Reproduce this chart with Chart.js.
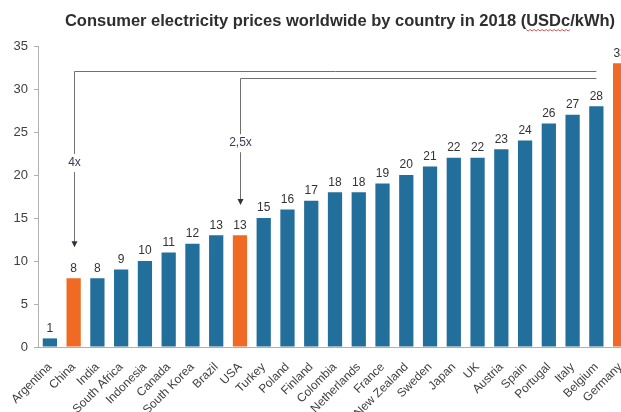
<!DOCTYPE html>
<html lang="en">
<head>
    <meta charset="UTF-8">
    <title>Consumer electricity prices 2018</title>
    <script src="https://cdn.jsdelivr.net/npm/chart.js"></script>
    <style>
        html, body { margin: 0; padding: 0; background: #fff; overflow: hidden; }
        #wrap { width: 680px; height: 412px; position: relative; }
    </style>
</head>
<body>
    <div id="wrap"><canvas id="chartCanvas"></canvas></div>
    <script>
        const titleText = 'Consumer electricity prices worldwide by country in 2018 (USDc/kWh)';
        const countries = ['Argentina', 'China', 'India', 'South Africa', 'Indonesia', 'Canada', 'South Korea', 'Brazil', 'USA',
            'Turkey', 'Poland', 'Finland', 'Colombia', 'Netherlands', 'France', 'New Zealand', 'Sweden', 'Japan', 'UK',
            'Austria', 'Spain', 'Portugal', 'Italy', 'Belgium', 'Germany'];
        const prices = [1, 8, 8, 9, 10, 11, 12, 13, 13, 15, 16, 17, 18, 18, 19, 20, 21, 22, 22, 23, 24, 26, 27, 28, 33];
        const highlighted = ['China', 'USA', 'Germany'];
        const yTicks = [0, 5, 10, 15, 20, 25, 30, 35];

        // comparison brackets: from a country down-arrow, joined to the right at a given level
        const brackets = [
            { label: '4x', from: 'China', to: 'Belgium', level: 32.1, arrowTip: 11.6, labelAt: 21.4 },
            { label: '2,5x', from: 'USA', to: 'Belgium', level: 31.3, arrowTip: 16.5, labelAt: 23.7 }
        ];

        const BLUE = '#236f9b';
        const ORANGE = '#ef6a24';
        const FONT = 'Arial, "Liberation Sans", sans-serif';

        const bracketPlugin = {
            id: 'brackets',
            afterDatasetsDraw(chart) {
                const c = chart.ctx, x = chart.scales.x, y = chart.scales.y;
                c.save();
                c.strokeStyle = '#707070';
                c.lineWidth = 1;
                c.font = '12px ' + FONT;
                c.textAlign = 'center';
                c.textBaseline = 'middle';
                brackets.forEach(b => {
                    const x0 = Math.round(x.getPixelForValue(countries.indexOf(b.from))) + 0.5;
                    const x1 = x.getPixelForValue(countries.indexOf(b.to));
                    const yl = Math.round(y.getPixelForValue(b.level)) + 0.5;
                    const yt = y.getPixelForValue(b.arrowTip);
                    const ym = y.getPixelForValue(b.labelAt);
                    c.beginPath();
                    c.moveTo(x1, yl); c.lineTo(x0, yl);
                    c.lineTo(x0, ym - 9);
                    c.moveTo(x0, ym + 9); c.lineTo(x0, yt - 5);
                    c.stroke();
                    c.beginPath();
                    c.moveTo(x0 - 3, yt - 6); c.lineTo(x0 + 3, yt - 6); c.lineTo(x0, yt);
                    c.closePath();
                    c.fillStyle = '#303040';
                    c.fill();
                    c.fillStyle = '#3a3a58';
                    c.fillText(b.label, x0, ym);
                });
                c.restore();
            }
        };

        const valueLabels = {
            id: 'valueLabels',
            afterDatasetsDraw(chart) {
                const c = chart.ctx;
                const meta = chart.getDatasetMeta(0);
                c.save();
                c.fillStyle = '#333';
                c.font = '12px ' + FONT;
                c.textAlign = 'center';
                c.textBaseline = 'bottom';
                meta.data.forEach((bar, i) => c.fillText(prices[i], bar.x, bar.y - 4));
                c.restore();
            }
        };

        // title drawn by hand so it can sit off-centre like the original, plus the spell-check squiggle under "USDc"
        const titlePlugin = {
            id: 'handTitle',
            afterDraw(chart) {
                const c = chart.ctx;
                c.save();
                c.font = 'bold 16.5px ' + FONT;
                c.fillStyle = '#2e2e2e';
                c.textAlign = 'left';
                c.textBaseline = 'middle';
                const full = c.measureText(titleText).width;
                const left = 340 - full / 2;
                c.fillText(titleText, left, 21);
                const start = left + c.measureText(titleText.slice(0, titleText.indexOf('USDc'))).width;
                const w = c.measureText('USDc').width;
                c.strokeStyle = '#d05050';
                c.lineWidth = 1;
                c.beginPath();
                for (let px = 0; px <= w; px += 2) {
                    const py = 30 + ((px / 2) % 2 ? 1 : -0.5);
                    if (px === 0) c.moveTo(start + px, py); else c.lineTo(start + px, py);
                }
                c.stroke();
                c.restore();
            }
        };

        const ctx = document.getElementById('chartCanvas').getContext('2d');
        new Chart(ctx, {
            type: 'bar',
            data: {
                labels: countries,
                datasets: [{
                    data: prices,
                    backgroundColor: countries.map(n => highlighted.includes(n) ? ORANGE : BLUE),
                    barPercentage: 0.6,
                    categoryPercentage: 1.0
                }]
            },
            options: {
                responsive: true,
                maintainAspectRatio: false,
                animation: false,
                layout: { padding: { left: 0, right: 48, top: 46, bottom: 0 } },
                plugins: {
                    legend: { display: false },
                    tooltip: { enabled: false },
                    title: { display: false }
                },
                scales: {
                    x: {
                        grid: { display: false },
                        border: { color: '#b0b0b0', width: 1 },
                        ticks: {
                            color: '#404040',
                            font: { family: FONT, size: 12 },
                            maxRotation: 45, minRotation: 45, autoSkip: false, padding: 5
                        },
                        afterFit: s => { s.height = 65; }
                    },
                    y: {
                        min: 0, max: 35,
                        afterBuildTicks: s => { s.ticks = yTicks.map(v => ({ value: v })); },
                        grid: { drawOnChartArea: false, drawTicks: true, tickLength: 4, color: '#b0b0b0' },
                        border: { color: '#b0b0b0', width: 1 },
                        ticks: {
                            color: '#404040',
                            font: { family: FONT, size: 13 },
                            padding: 6
                        },
                        afterFit: s => { s.width = 38; }
                    }
                }
            },
            plugins: [valueLabels, bracketPlugin, titlePlugin]
        });
    </script>
</body>
</html>
